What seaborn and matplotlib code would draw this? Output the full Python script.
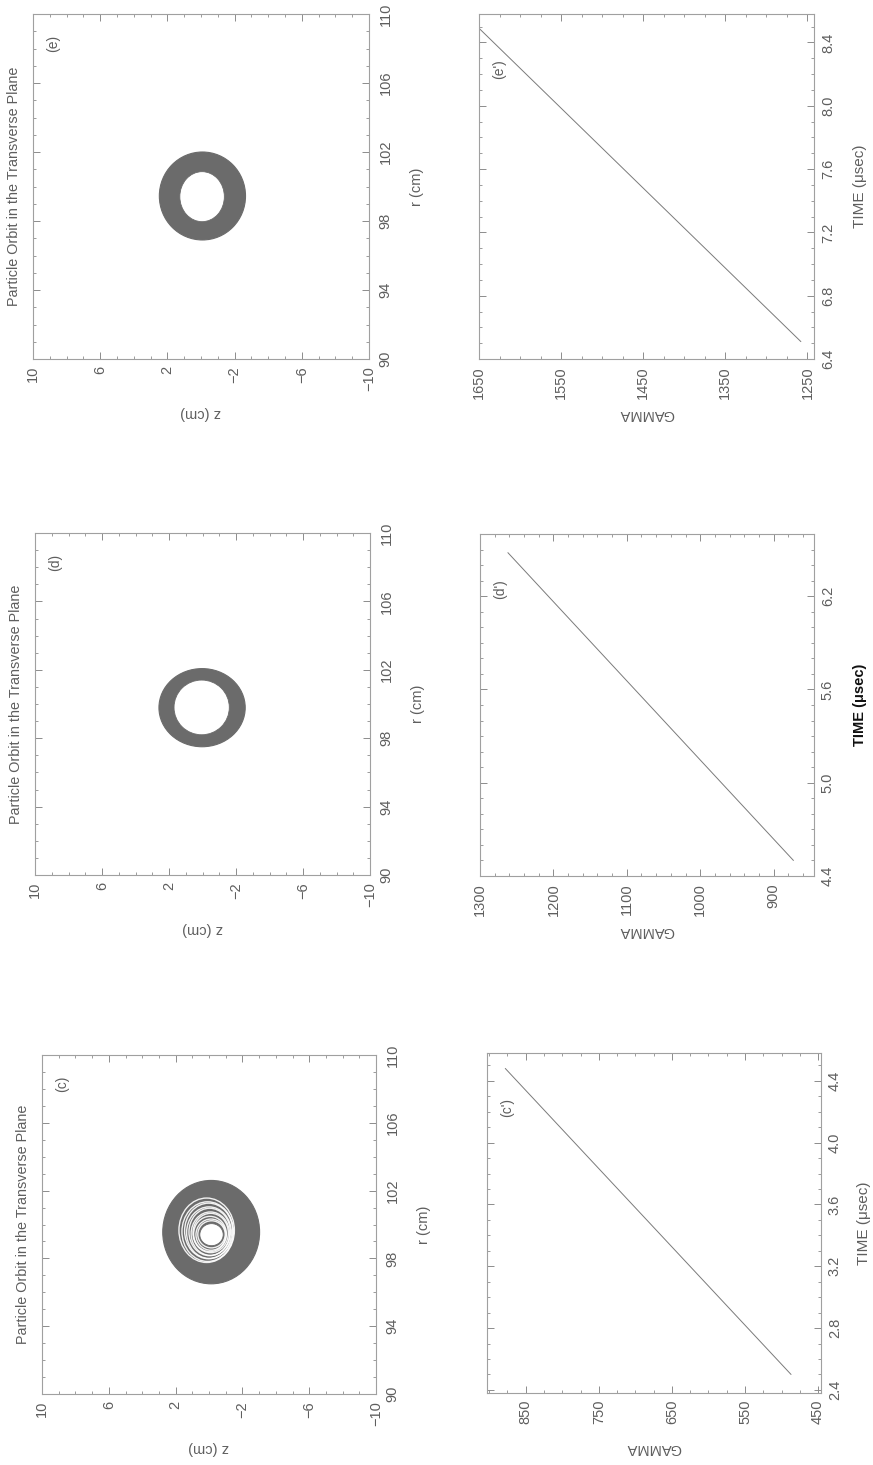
import matplotlib
matplotlib.use("Agg")
import matplotlib.pyplot as plt
from matplotlib.patches import Ellipse
from matplotlib.ticker import MultipleLocator, FixedLocator
import seaborn as sns

sns.set_style("white")
plt.rcParams['font.family'] = ['Liberation Sans', 'DejaVu Sans']

# ---------------------------------------------------------------- data
runs = ['c', 'd', 'e']

# transverse orbit envelope: outer edge of the filled band (z range, r range)
outer_z_min = {'c': -3.03, 'd': -2.55, 'e': -2.65}
outer_z_max = {'c': 2.77, 'd': 2.60, 'e': 2.48}
outer_r_min = {'c': 96.5, 'd': 97.5, 'e': 96.9}
outer_r_max = {'c': 102.6, 'd': 102.07, 'e': 102.0}
# inner edge of the band (hole in the middle)
inner_z_min = {'c': -0.85, 'd': -1.60, 'e': -1.39}
inner_z_max = {'c': 0.55, 'd': 1.70, 'e': 1.26}
inner_r_min = {'c': 98.75, 'd': 98.2, 'e': 97.96}
inner_r_max = {'c': 100.05, 'd': 101.4, 'e': 100.86}

# run (c): sparse loops between the dense band and the hole (centre z, centre r, half z, half r)
c_loop_zc = [0.14, 0.08, 0.02, 0.00, -0.04, -0.08, -0.10, -0.06, -0.12, -0.15]
c_loop_rc = [99.66, 99.58, 99.62, 99.52, 99.56, 99.46, 99.50, 99.44, 99.40, 99.42]
c_loop_hz = [1.66, 1.54, 1.44, 1.34, 1.24, 1.15, 1.06, 0.98, 0.90, 0.82]
c_loop_hr = [1.90, 1.76, 1.64, 1.52, 1.40, 1.28, 1.16, 1.04, 0.92, 0.80]

# energy gain: end points of GAMMA vs TIME for each run
time_start = {'c': 2.50, 'd': 4.50, 'e': 6.51}
time_end = {'c': 4.48, 'd': 6.48, 'e': 8.49}
gamma_start = {'c': 487, 'd': 873, 'e': 1258}
gamma_end = {'c': 878, 'd': 1262, 'e': 1650}

# axis ranges and tick labels
time_lim = {'c': (2.38, 4.58), 'd': (4.40, 6.60), 'e': (6.40, 8.58)}
gamma_lim = {'c': (903, 446), 'd': (1300, 845), 'e': (1650, 1242)}
time_ticks = {'c': [2.4, 2.8, 3.2, 3.6, 4.0, 4.4],
              'd': [4.4, 5.0, 5.6, 6.2],
              'e': [6.4, 6.8, 7.2, 7.6, 8.0, 8.4]}
gamma_ticks = {'c': [450, 550, 650, 750, 850],
               'd': [900, 1000, 1100, 1200, 1300],
               'e': [1250, 1350, 1450, 1550, 1650]}
gamma_minor = {'c': 25, 'd': 20, 'e': 25}
z_ticks = [10, 6, 2, -2, -6, -10]
r_ticks = [90, 94, 98, 102, 106, 110]

# ---------------------------------------------------------------- layout (pixels: left, top, right, bottom)
W, H = 873, 1465
orbit_box = {'e': (33, 14, 369, 359), 'd': (35, 533, 370, 875), 'c': (42, 1055, 376, 1394)}
gamma_box = {'e': (479, 14, 814, 359), 'd': (480, 534, 814, 876), 'c': (487, 1053, 821, 1393)}
time_label_dx = {'c': 43, 'd': 46, 'e': 46}

TXT = '#5e5e5e'
FRAME = '#a0a0a0'
INK = '#6b6b6b'
LINE = '#7a7a7a'
FS = 10.5

fig = plt.figure(figsize=(W / 100, H / 100), dpi=100)
fig.patch.set_facecolor('white')


def add_axes_px(box):
    l, t, r, b = box
    return fig.add_axes([l / W, 1 - b / H, (r - l) / W, (b - t) / H])


def fig_text(x, y, s, **kw):
    kw.setdefault('color', TXT)
    kw.setdefault('fontsize', FS)
    fig.text(x / W, 1 - y / H, s, ha='center', va='center', **kw)


def style(ax, xpad=5, ypad=6):
    for sp in ax.spines.values():
        sp.set_color(FRAME)
        sp.set_linewidth(0.8)
    ax.tick_params(which='both', direction='in', top=True, bottom=True,
                   left=True, right=True, color='#8c8c8c',
                   labelcolor=TXT, labelsize=FS)
    ax.tick_params(which='major', length=5, width=0.7)
    ax.tick_params(which='minor', length=2.5, width=0.6)
    ax.tick_params(axis='y', labelleft=False, labelright=True, pad=ypad)
    ax.tick_params(axis='x', pad=xpad)
    ax.set_facecolor('white')


def label_ticks(ax, xt, xl, yt, yl):
    ax.xaxis.set_major_locator(FixedLocator(xt))
    ax.set_xticklabels(xl, rotation=90, ha='center', va='top')
    ax.yaxis.set_major_locator(FixedLocator(yt))
    ax.set_yticklabels(yl, rotation=90, ha='left', va='center')


for key in runs:
    # ---------------- particle orbit in the transverse plane
    ax = add_axes_px(orbit_box[key])
    style(ax, xpad=5, ypad=7)
    ax.set_xlim(10, -10)
    ax.set_ylim(90, 110)

    zc = (outer_z_min[key] + outer_z_max[key]) / 2
    rc = (outer_r_min[key] + outer_r_max[key]) / 2
    ax.add_patch(Ellipse((zc, rc), outer_z_max[key] - outer_z_min[key],
                         outer_r_max[key] - outer_r_min[key],
                         facecolor=INK, edgecolor=INK, lw=0.8, zorder=2))
    if key == 'c':
        for i in range(len(c_loop_zc)):
            ax.add_patch(Ellipse((c_loop_zc[i], c_loop_rc[i]), 2 * c_loop_hz[i],
                                 2 * c_loop_hr[i], facecolor='none',
                                 edgecolor='white', lw=1.0, alpha=0.9, zorder=3))
    hz = (inner_z_min[key] + inner_z_max[key]) / 2
    hr = (inner_r_min[key] + inner_r_max[key]) / 2
    ax.add_patch(Ellipse((hz, hr), inner_z_max[key] - inner_z_min[key],
                         inner_r_max[key] - inner_r_min[key],
                         facecolor='white', edgecolor=INK, lw=0.6, zorder=4))

    label_ticks(ax, z_ticks, ['10', '6', '2', '\u22122', '\u22126', '\u221210'],
                r_ticks, [str(v) for v in r_ticks])
    ax.xaxis.set_minor_locator(MultipleLocator(1))
    ax.yaxis.set_minor_locator(MultipleLocator(1))
    ax.text(0.06, 0.915, f'({key})', transform=ax.transAxes, rotation=90,
            ha='center', va='center', color=TXT, fontsize=FS - 0.5)

    l, t, r, b = orbit_box[key]
    fig_text(l - 19, (t + b) / 2, 'Particle Orbit in the Transverse Plane',
             rotation=90, fontsize=10.4)
    fig_text((l + r) / 2, b + 54, 'z (cm)', rotation=180)
    fig_text(r + 48, (t + b) / 2, 'r (cm)', rotation=90)

    # ---------------- GAMMA vs TIME
    ax = add_axes_px(gamma_box[key])
    style(ax, xpad=5, ypad=5)
    sns.lineplot(x=[gamma_start[key], gamma_end[key]],
                 y=[time_start[key], time_end[key]],
                 ax=ax, sort=False, estimator=None, color=LINE, linewidth=0.7)
    ax.set_xlim(*gamma_lim[key])
    ax.set_ylim(*time_lim[key])
    ax.set_xlabel('')
    ax.set_ylabel('')
    label_ticks(ax, gamma_ticks[key], [str(v) for v in gamma_ticks[key]],
                time_ticks[key], [f'{v:.1f}' for v in time_ticks[key]])
    ax.xaxis.set_minor_locator(MultipleLocator(gamma_minor[key]))
    ax.yaxis.set_minor_locator(MultipleLocator(0.1))
    ax.text(0.06, 0.84, f"({key}')", transform=ax.transAxes, rotation=90,
            ha='center', va='center', color=TXT, fontsize=FS - 0.5)

    l, t, r, b = gamma_box[key]
    fig_text((l + r) / 2, b + 55, 'GAMMA', rotation=180)
    if key == 'd':
        fig_text(r + time_label_dx[key], (t + b) / 2, 'TIME (\u03bcsec)', rotation=90,
                 fontweight='bold', color='#111111', fontsize=10.5)
    else:
        fig_text(r + time_label_dx[key], (t + b) / 2, 'TIME (\u03bcsec)', rotation=90,
                 fontsize=11)

fig.savefig('out.png', dpi=100, facecolor='white')
